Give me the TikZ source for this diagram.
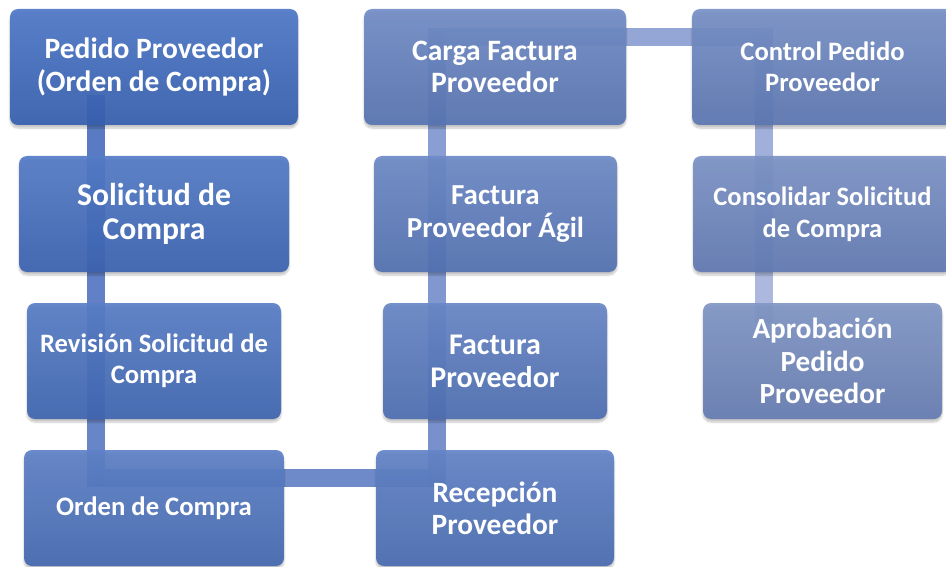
\documentclass[tikz,border=0pt]{standalone}
\usepackage{fontspec}
\setmainfont{Carlito}
\usetikzlibrary{shadows.blur}
\definecolor{topA}{HTML}{5079C8}
\definecolor{botA}{HTML}{3760B0}
\definecolor{topB}{HTML}{8297C6}
\definecolor{botB}{HTML}{667DB2}
\definecolor{bandA}{HTML}{3D64B8}
\definecolor{bandB}{HTML}{A3B0D9}
\begin{document}
\begin{tikzpicture}[x=1pt,y=-1pt,
  proc/.style={rounded corners=8pt, minimum height=116pt, inner sep=0pt, align=center,
    text=white, blur shadow={shadow xshift=0pt, shadow yshift=-3pt, shadow blur steps=6, shadow opacity=25}},
  shd/.style={top color=topA!#1!topB, bottom color=botA!#1!botB, fill opacity=0.93, text opacity=1},
  fsz/.style 2 args={font=\bfseries\fontsize{#1}{#2}\selectfont},
  band/.style={line width=18pt, draw=bandA!#1!bandB, draw opacity=0.85}
]
\useasboundingbox (0,0) rectangle (946,567);
% connector band
\coordinate (c1) at (96,95);
\coordinate (c2) at (96,185);
\coordinate (c3) at (96,330);
\coordinate (c4) at (96,487);
\coordinate (h1) at (96,478);
\coordinate (h2) at (446,478);
\coordinate (d1) at (437,487);
\coordinate (d2) at (437,330);
\coordinate (d3) at (437,183);
\coordinate (d4) at (437,28);
\coordinate (g1) at (437,37);
\coordinate (g2) at (773,37);
\coordinate (e1) at (764,28);
\coordinate (e2) at (764,183);
\coordinate (e3) at (764,323);
\draw[band=100] (c1) -- (c2);
\draw[band=92] (c2) -- (c3);
\draw[band=84] (c3) -- (c4);
\draw[band=76] (h1) -- (h2);
\draw[band=66] (d1) -- (d2);
\draw[band=56] (d2) -- (d3);
\draw[band=46] (d3) -- (d4);
\draw[band=34] (g1) -- (g2);
\draw[band=18] (e1) -- (e2);
\draw[band=5] (e2) -- (e3);
% boxes
\node[proc, shd=100, minimum width=288pt, fsz={29.5}{33}] (b1) at (154,67) {Pedido Proveedor\\(Orden de Compra)};
\node[proc, shd=90, minimum width=270pt, fsz={31.7}{34}] (b2) at (154,214) {Solicitud de\\Compra};
\node[proc, shd=80, minimum width=254pt, fsz={26.6}{31}] (b3) at (154,361) {Revisión Solicitud de\\Compra};
\node[proc, shd=70, minimum width=260pt, fsz={26.7}{31}] (b4) at (154,508) {Orden de Compra};
\node[proc, shd=60, minimum width=238pt, fsz={29.4}{32}] (b5) at (495,508) {Recepción\\Proveedor};
\node[proc, shd=50, minimum width=224pt, fsz={30}{33}] (b6) at (495,361) {Factura\\Proveedor};
\node[proc, shd=40, minimum width=243pt, fsz={29}{33}] (b7) at (495.5,214) {Factura\\Proveedor Ágil};
\node[proc, shd=30, minimum width=262pt, fsz={29.6}{32}] (b8) at (495,67) {Carga Factura\\Proveedor};
\node[proc, shd=20, minimum width=261pt, fsz={26.6}{31}] (b9) at (822.5,67) {Control Pedido\\Proveedor};
\node[proc, shd=10, minimum width=259pt, fsz={26.5}{32}] (b10) at (822.5,214) {Consolidar Solicitud\\de Compra};
\node[proc, shd=0, minimum width=239pt, fsz={29.2}{32.5}] (b11) at (822.5,361) {Aprobación\\Pedido\\Proveedor};
\end{tikzpicture}
\end{document}
